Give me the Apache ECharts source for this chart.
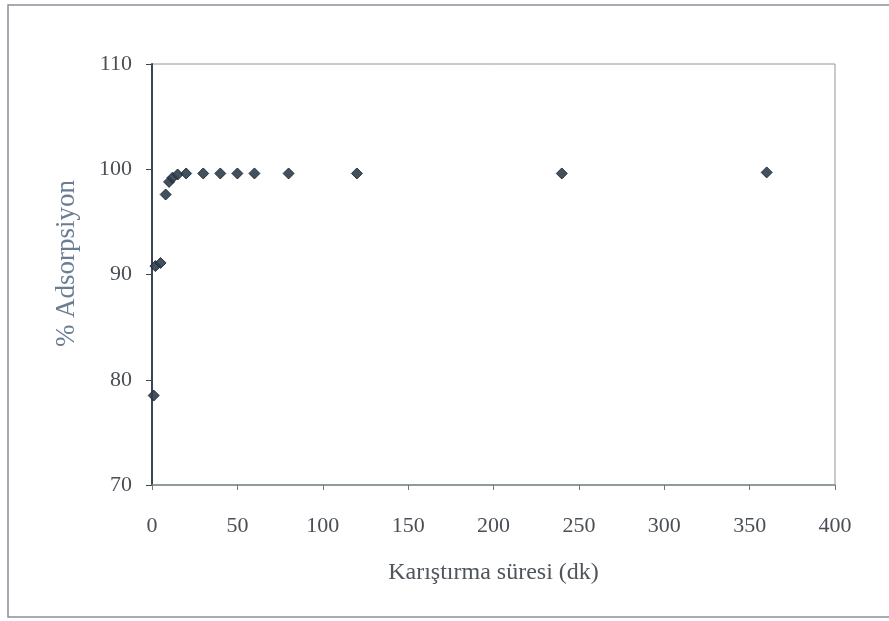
<!DOCTYPE html>
<html><head><meta charset="utf-8">
<script src="https://cdn.jsdelivr.net/npm/echarts@6/dist/echarts.min.js"></script>
<style>html,body{margin:0;padding:0;background:#fff}#c{width:889px;height:621px}</style>
</head><body><div id="c"></div>
<script>
var times = [1, 2, 5, 8, 10, 12, 15, 20, 30, 40, 50, 60, 80, 120, 240, 360];
var adsorption = [78.5, 90.8, 91.1, 97.6, 98.8, 99.2, 99.5, 99.6, 99.6, 99.6, 99.6, 99.6, 99.6, 99.6, 99.6, 99.7];
var xTicks = [0, 50, 100, 150, 200, 250, 300, 350, 400];
var yTicks = [70, 80, 90, 100, 110];
var xName = 'Karıştırma süresi (dk)';
var yName = '% Adsorpsiyon';

var chart = echarts.init(document.getElementById('c'), null, {renderer: 'canvas'});
var font = '"Liberation Serif", "DejaVu Serif", serif';
chart.setOption({
  animation: false,
  backgroundColor: '#fff',
  graphic: [{
    type: 'rect', shape: {x: 8, y: 5, width: 890, height: 612},
    style: {fill: 'none', stroke: '#8a8f96', lineWidth: 1.5}, silent: true
  }],
  grid: {left: 152, right: 54, top: 64, bottom: 136, show: true, borderColor: '#8f959c', borderWidth: 1},
  xAxis: {
    type: 'value', min: xTicks[0], max: xTicks[xTicks.length - 1], interval: 50,
    name: xName, nameLocation: 'middle', nameGap: 76,
    nameTextStyle: {fontFamily: font, fontSize: 24, color: '#4f555c'},
    axisLine: {show: true, lineStyle: {color: '#7f8f80', width: 1.5}},
    axisTick: {show: true, length: 5, lineStyle: {color: '#6a7a70'}},
    axisLabel: {fontFamily: font, fontSize: 22, color: '#4a4f55', margin: 30},
    splitLine: {show: false}
  },
  yAxis: {
    type: 'value', min: yTicks[0], max: yTicks[yTicks.length - 1], interval: 10,
    name: yName, nameLocation: 'middle', nameGap: 72, nameRotate: 90,
    nameTextStyle: {fontFamily: font, fontSize: 27, color: '#6a7d92', padding: [0, 0, 0, 22]},
    axisLine: {show: true, lineStyle: {color: '#3c4654', width: 2}},
    axisTick: {show: true, length: 6, lineStyle: {color: '#3c4654'}},
    axisLabel: {fontFamily: font, fontSize: 22, color: '#4a4f55', margin: 20},
    splitLine: {show: false}
  },
  series: [{
    type: 'scatter',
    data: times.map(function (t, i) { return [t, adsorption[i]]; }),
    symbol: 'diamond', symbolSize: 11,
    itemStyle: {color: '#2f3d4b', borderColor: '#1e2833', borderWidth: 1, opacity: 0.9}
  }]
});
</script></body></html>
